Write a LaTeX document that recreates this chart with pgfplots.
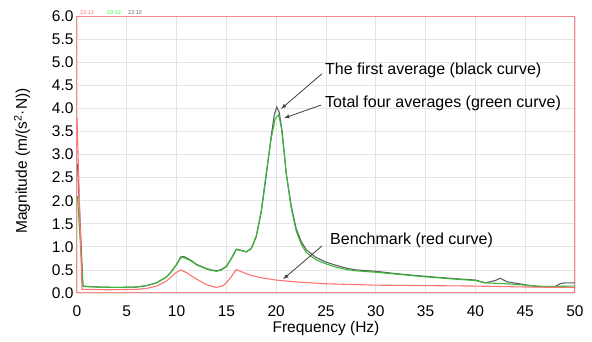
\documentclass[border=0pt]{standalone}
\usepackage{pgfplots}
\pgfplotsset{compat=1.18}
\usepackage{fontspec}
\setmainfont{Liberation Sans}
\definecolor{frame}{RGB}{250,135,135}
\definecolor{redc}{RGB}{255,115,115}
\definecolor{greenc}{RGB}{55,185,55}
\definecolor{blackc}{RGB}{95,95,95}
\definecolor{gridc}{RGB}{228,228,228}
\begin{document}
\begin{tikzpicture}
\path[use as bounding box] (-77pt,-49pt) rectangle (515pt,293pt);
\begin{axis}[
  scale only axis, width=498pt, height=277pt,
  xmin=0, xmax=50, ymin=0, ymax=6,
  xtick={0,5,...,50}, ytick={0,0.5,...,6},
  font=\fontsize{15.5}{18}\selectfont,
  /pgf/number format/assume math mode=true,
  yticklabel style={/pgf/number format/.cd, fixed, fixed zerofill, precision=1},
  xticklabel style={anchor=center, yshift=-18pt},
  major tick length=0pt,
  grid=major, grid style={gridc, line width=0.8pt},
  axis line style={frame, line width=1pt},
  xlabel={Frequency (Hz)},
  xlabel style={at={(axis description cs:0.5,0)}, anchor=center, yshift=-35pt},
  ylabel={Magnitude (m/(s\textsuperscript{2}·N))},
  ylabel style={at={(axis description cs:-0.1104,0.4765)}, anchor=center},
  clip=false,
]
\addplot[blackc, line width=1.1pt] coordinates {
(0.05,2.8) (0.6,0.15) (2,0.13) (4,0.12) (6,0.13) (7,0.16) (8,0.22) (9,0.35) (9.5,0.47)
(10,0.62) (10.4,0.78) (10.7,0.79) (11,0.76) (11.5,0.7) (12,0.62) (13,0.53) (13.5,0.5)
(14,0.48) (14.5,0.51) (15,0.58) (15.5,0.75) (16,0.95) (16.5,0.92) (17,0.89) (17.5,0.96)
(18,1.22) (18.5,1.75) (19,2.55) (19.5,3.4) (19.8,3.85) (20.05,4.03) (20.3,3.92) (20.6,3.5)
(21,2.6) (21.5,1.9) (22,1.4) (22.5,1.12) (23,0.94) (24,0.77) (25,0.67) (26,0.6) (27,0.54)
(28,0.5) (30,0.47) (32,0.42) (35,0.36) (38,0.31) (40,0.28) (41,0.22) (42,0.27) (42.5,0.32)
(43.2,0.24) (45,0.18) (46,0.14) (47,0.13) (48,0.14) (48.5,0.2) (49,0.22) (50,0.22)};
\addplot[greenc, line width=1.1pt] coordinates {
(0.05,2.1) (0.6,0.14) (2,0.13) (4,0.12) (6,0.13) (7,0.16) (8,0.22) (9,0.35) (9.5,0.47)
(10,0.61) (10.4,0.76) (10.7,0.77) (11,0.74) (11.5,0.69) (12,0.61) (13,0.52) (13.5,0.49)
(14,0.47) (14.5,0.5) (15,0.57) (15.5,0.74) (16,0.94) (16.5,0.92) (17,0.89) (17.5,0.97)
(18,1.24) (18.5,1.78) (19,2.6) (19.5,3.35) (19.9,3.78) (20.25,3.86) (20.5,3.6) (20.8,3.05)
(21,2.6) (21.5,1.85) (22,1.35) (22.5,1.06) (23,0.88) (24,0.72) (25,0.63) (26,0.56) (27,0.51)
(28,0.48) (30,0.45) (32,0.41) (35,0.35) (38,0.3) (40,0.27) (41,0.22) (43,0.2) (45,0.17)
(47,0.14) (50,0.15)};
\addplot[redc, line width=1.1pt] coordinates {
(0,3.8) (0.5,0.08) (3,0.07) (6,0.08) (7,0.1) (8,0.15) (9,0.26) (9.8,0.42) (10.4,0.5)
(11,0.44) (12,0.3) (13,0.18) (14,0.12) (14.7,0.16) (15.3,0.3) (16,0.51) (16.5,0.46)
(17.5,0.38) (18.5,0.33) (20,0.28) (22,0.24) (25,0.2) (30,0.17) (35,0.16) (40,0.15)
(45,0.13) (50,0.12)};
% annotations
\draw[-latex, black!75, line width=0.8pt] (axis cs:24.6,4.75) -- (axis cs:20.5,3.99);
\draw[-latex, black!75, line width=0.8pt] (axis cs:24.5,4.07) -- (axis cs:20.8,3.79);
\draw[-latex, black!75, line width=0.8pt] (axis cs:24.6,1.02) -- (axis cs:20.7,0.30);
\node[anchor=west, inner sep=0pt, font=\fontsize{16}{19}\selectfont] at (axis cs:24.9,4.83) {The first average (black curve)};
\node[anchor=west, inner sep=0pt, font=\fontsize{16}{19}\selectfont] at (axis cs:24.9,4.1) {Total four averages (green curve)};
\node[anchor=west, inner sep=0pt, font=\fontsize{16}{19}\selectfont] at (axis cs:25.4,1.13) {Benchmark (red curve)};
% tiny labels
\node[anchor=south west, inner sep=0pt, font=\fontsize{5.5}{6}\selectfont, text=redc] at ([xshift=3pt,yshift=1pt]rel axis cs:0,1) {22:12};
\node[anchor=south west, inner sep=0pt, font=\fontsize{5.5}{6}\selectfont, text=green!80!white] at ([xshift=30pt,yshift=1pt]rel axis cs:0,1) {22:12};
\node[anchor=south west, inner sep=0pt, font=\fontsize{5.5}{6}\selectfont, text=black!60] at ([xshift=51pt,yshift=1pt]rel axis cs:0,1) {22:12};
\end{axis}
\end{tikzpicture}
\end{document}
